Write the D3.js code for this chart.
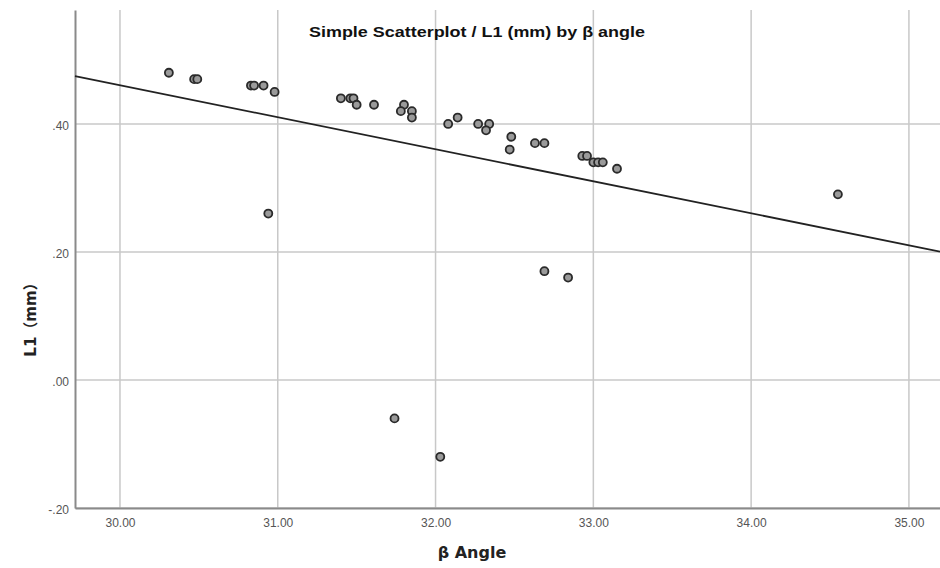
<!DOCTYPE html>
<html><head><meta charset="utf-8">
<script src="https://cdn.jsdelivr.net/npm/d3@7"></script>
<style>body{margin:0;background:#fff}svg{display:block}</style>
</head><body>
<script>
const angle = [30.31,30.47,30.49,30.83,30.85,30.91,30.98,30.94,31.40,31.46,31.48,31.50,31.61,31.80,31.78,31.85,31.85,32.08,32.14,32.27,32.34,32.32,32.48,32.47,32.63,32.69,32.93,32.96,33.00,33.03,33.06,33.15,32.69,32.84,34.55,31.74,32.03];
const l1 =    [0.48,0.47,0.47,0.46,0.46,0.46,0.45,0.26,0.44,0.44,0.44,0.43,0.43,0.43,0.42,0.42,0.41,0.40,0.41,0.40,0.40,0.39,0.38,0.36,0.37,0.37,0.35,0.35,0.34,0.34,0.34,0.33,0.17,0.16,0.29,-0.06,-0.12];
const xTicks = [30,31,32,33,34,35];
const yTicks = [-0.2,0,0.2,0.4];
const titleText = "Simple Scatterplot / L1 (mm) by β angle";
const xTitle = "β Angle";
const yTitle = "L1（mm）";

const W = 940, H = 568;
const svg = d3.select("body").append("svg").attr("width", W).attr("height", H);
const x = d3.scaleLinear().domain([29.715, 35.197]).range([75, 940]);
const y = d3.scaleLinear().domain([-0.2, 0.578]).range([508, 10]);
const fmt = v => { const s = v.toFixed(2); return s.replace(/^(-?)0\./, "$1."); };

// gridlines
svg.append("g").selectAll("line").data(xTicks).join("line")
  .attr("x1", d => x(d)).attr("x2", d => x(d)).attr("y1", y.range()[1]).attr("y2", y.range()[0])
  .attr("stroke", "#c8c8c8").attr("stroke-width", 1.5);
svg.append("g").selectAll("line").data(yTicks).join("line")
  .attr("x1", x.range()[0]).attr("x2", x.range()[1]).attr("y1", d => y(d)).attr("y2", d => y(d))
  .attr("stroke", "#c8c8c8").attr("stroke-width", 1.5);

// axes
const xAxis = svg.append("g").attr("transform", `translate(0,${y.range()[0]})`)
  .call(d3.axisBottom(x).tickValues(xTicks).tickFormat(fmt).tickSize(0).tickPadding(10));
const yAxis = svg.append("g").attr("transform", `translate(${x.range()[0]},0)`)
  .call(d3.axisLeft(y).tickValues(yTicks).tickFormat(fmt).tickSize(0).tickPadding(6));
[xAxis, yAxis].forEach(a => {
  a.select(".domain").attr("stroke", "#8a8a8a").attr("stroke-width", 2);
  a.selectAll("text").attr("fill", "#555").attr("font-family", "'Liberation Sans Narrow', 'Liberation Sans', Arial, sans-serif").attr("font-size", 12);
});
yAxis.selectAll("text").attr("dy", "0.45em");

// regression line (least squares)
const n = angle.length;
const mx = d3.mean(angle), my = d3.mean(l1);
let sxy = 0, sxx = 0;
for (let i = 0; i < n; i++) { sxy += (angle[i]-mx)*(l1[i]-my); sxx += (angle[i]-mx)**2; }
const b = sxy/sxx, a0 = my - b*mx;
const xd = x.domain();
svg.append("line")
  .attr("x1", x(xd[0])).attr("y1", y(a0 + b*xd[0]))
  .attr("x2", x(xd[1])).attr("y2", y(a0 + b*xd[1]))
  .attr("stroke", "#222").attr("stroke-width", 1.8);

// points
svg.append("g").selectAll("circle").data(d3.range(n)).join("circle")
  .attr("cx", i => x(angle[i])).attr("cy", i => y(l1[i])).attr("r", 4)
  .attr("fill", "#9a9a9a").attr("stroke", "#2a2a2a").attr("stroke-width", 1.8);

// titles
svg.append("text").attr("x", 477).attr("y", 37).attr("text-anchor", "middle")
  .attr("font-family", "'Liberation Sans', Arial, sans-serif").attr("font-weight", "bold").attr("font-size", 15)
  .attr("textLength", 336).attr("lengthAdjust", "spacingAndGlyphs").attr("fill", "#111").text(titleText);
svg.append("text").attr("x", 472).attr("y", 558).attr("text-anchor", "middle")
  .attr("font-family", "'DejaVu Sans', sans-serif").attr("font-weight", "bold").attr("font-size", 16)
  .attr("fill", "#222").text(xTitle);
svg.append("text").attr("transform", "translate(36,316) rotate(-90)").attr("text-anchor", "middle")
  .attr("font-family", "'DejaVu Sans', 'Noto Sans CJK SC', sans-serif").attr("font-weight", "bold").attr("font-size", 15)
  .attr("fill", "#222").text(yTitle);
</script>
</body></html>
